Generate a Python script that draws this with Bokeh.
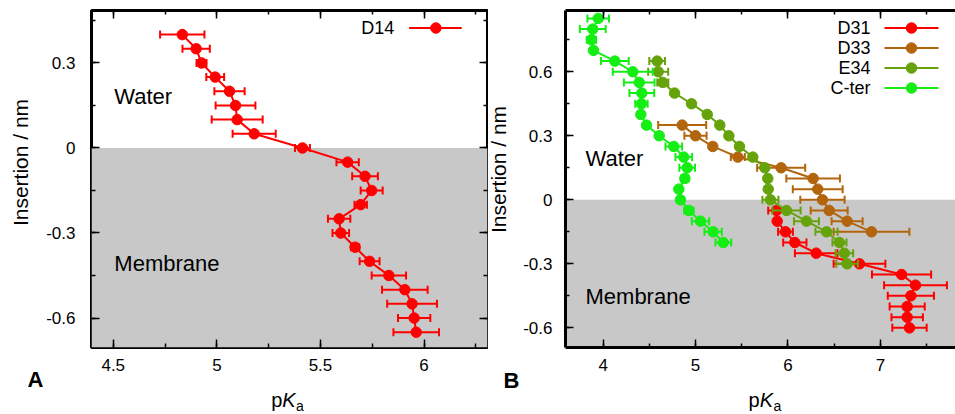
import numpy as np
from bokeh.plotting import figure
from bokeh.models import (FixedTicker, CustomJSTickFormatter, LinearAxis, BoxAnnotation,
                          Label, ColumnDataSource, Range1d)
from bokeh.layouts import row, column
from bokeh.core.properties import value
from bokeh.embed import file_html
from bokeh.resources import INLINE

# ---------------- data ----------------
# Panel A : D14
d14_ins = [0.40, 0.35, 0.30, 0.25, 0.20, 0.15, 0.10, 0.05, 0.00, -0.05, -0.10,
           -0.15, -0.20, -0.25, -0.30, -0.35, -0.40, -0.45, -0.50, -0.55, -0.60, -0.65]
d14_pka = [4.833, 4.900, 4.926, 4.992, 5.061, 5.090, 5.098, 5.180, 5.413, 5.631, 5.715,
           5.747, 5.694, 5.590, 5.598, 5.667, 5.737, 5.830, 5.907, 5.942, 5.952, 5.962]
d14_err = [0.107, 0.066, 0.024, 0.043, 0.073, 0.096, 0.123, 0.104, 0.036, 0.054, 0.062,
           0.053, 0.030, 0.054, 0.040, 0.020, 0.048, 0.083, 0.110, 0.120, 0.078, 0.110]

# Panel B
d31_ins = [-0.05, -0.10, -0.15, -0.20, -0.25, -0.30, -0.35, -0.40, -0.45, -0.50, -0.55, -0.60]
d31_pka = [5.876, 5.883, 5.973, 6.074, 6.305, 6.774, 7.229, 7.380, 7.330, 7.290, 7.290, 7.315]
d31_err = [0.090, 0.030, 0.080, 0.126, 0.230, 0.280, 0.320, 0.340, 0.250, 0.190, 0.170, 0.186]

d33_ins = [0.35, 0.30, 0.25, 0.20, 0.15, 0.10, 0.05, 0.00, -0.05, -0.10, -0.15]
d33_pka = [4.855, 4.999, 5.186, 5.457, 5.926, 6.272, 6.322, 6.373, 6.446, 6.640, 6.904]
d33_err = [0.260, 0.120, 0.030, 0.076, 0.260, 0.290, 0.270, 0.240, 0.200, 0.168, 0.410]

e34_ins = [0.65, 0.60, 0.55, 0.50, 0.45, 0.40, 0.35, 0.30, 0.25, 0.20, 0.15, 0.10, 0.05,
           0.00, -0.05, -0.10, -0.15, -0.20, -0.25, -0.30]
e34_pka = [4.584, 4.595, 4.645, 4.772, 4.956, 5.126, 5.262, 5.360, 5.475, 5.619, 5.749,
           5.781, 5.786, 5.810, 5.984, 6.200, 6.417, 6.557, 6.610, 6.640]
e34_err = [0.085, 0.108, 0.060, 0.030, 0.030, 0.030, 0.030, 0.030, 0.030, 0.030, 0.030,
           0.030, 0.030, 0.087, 0.153, 0.135, 0.120, 0.076, 0.095, 0.117]

cter_ins = [0.85, 0.80, 0.75, 0.70, 0.65, 0.60, 0.55, 0.50, 0.45, 0.40, 0.35, 0.30, 0.25,
            0.20, 0.15, 0.10, 0.05, 0.00, -0.05, -0.10, -0.15, -0.20]
cter_pka = [3.946, 3.887, 3.873, 3.895, 4.126, 4.320, 4.390, 4.418, 4.414, 4.407, 4.469,
            4.606, 4.764, 4.872, 4.909, 4.884, 4.818, 4.836, 4.927, 5.053, 5.190, 5.300]
cter_err = [0.117, 0.140, 0.050, 0.030, 0.150, 0.216, 0.166, 0.134, 0.067, 0.030, 0.030,
            0.030, 0.090, 0.090, 0.085, 0.040, 0.030, 0.030, 0.050, 0.094, 0.094, 0.085]

a_xticks = [4.5, 5, 5.5, 6]
a_xminor = [4.5, 4.75, 5, 5.25, 5.5, 5.75, 6, 6.25]
a_yticks = [-0.6, -0.3, 0, 0.3]
a_yminor = [-0.6, -0.45, -0.3, -0.15, 0, 0.15, 0.3, 0.45]
b_xticks = [4, 5, 6, 7]
b_xminor = [3.5, 4, 4.5, 5, 5.5, 6, 6.5, 7, 7.5]
b_yticks = [-0.6, -0.3, 0, 0.3, 0.6]
b_yminor = [-0.6, -0.45, -0.3, -0.15, 0, 0.15, 0.3, 0.45, 0.6, 0.75]

RED = "#ff0000"
BROWN = "#b3650d"
OLIVE = "#66a30a"
LIME = "#14ee14"
GRAY = "#c8c8c8"
FONT = "Liberation Sans"

H = 414          # page height
HP = 386         # height of the panel figures (bottom strip holds the x label)
FMT = CustomJSTickFormatter(code="return tick.toString();")
EMPTY = CustomJSTickFormatter(code="return '';")


def make_panel(x0, width, fl, fr, ft, fb, xr, yr, xt, xm, yt, ym, outline, ystand):
    p = figure(width=width, height=HP, x_range=Range1d(*xr), y_range=Range1d(*yr),
               output_backend="svg", toolbar_location=None, title=None,
               min_border_left=fl - x0, min_border_right=x0 + width - fr,
               min_border_top=ft, min_border_bottom=HP - fb)
    p.xgrid.visible = False
    p.ygrid.visible = False
    p.background_fill_color = "white"
    p.border_fill_color = "white"
    if outline:
        p.outline_line_color = "black"
        p.outline_line_width = 3
    else:
        p.outline_line_color = None
    for ax, tk, mn in ((p.xaxis[0], xt, xm), (p.yaxis[0], yt, ym)):
        ax.ticker = FixedTicker(ticks=tk, minor_ticks=mn)
        ax.formatter = FMT
        ax.major_tick_in = 8
        ax.major_tick_out = 0
        ax.minor_tick_in = 4
        ax.minor_tick_out = 0
        ax.major_tick_line_width = 1.5
        ax.minor_tick_line_width = 1.5
        ax.major_label_text_font = FONT
        ax.major_label_text_font_size = "17px"
        ax.major_label_text_color = "black"
        ax.axis_line_width = 3 if not outline else 1
        ax.axis_line_color = "black" if not outline else None
    p.xaxis[0].major_label_standoff = 11
    p.yaxis[0].major_label_standoff = ystand
    # mirrored axes (ticks only)
    sides = [("above", xt, xm)]
    if outline:
        sides.append(("right", yt, ym))
    for side, tk, mn in sides:
        ax = LinearAxis(ticker=FixedTicker(ticks=tk, minor_ticks=mn), formatter=EMPTY,
                        major_tick_in=8, major_tick_out=0, minor_tick_in=4, minor_tick_out=0,
                        major_tick_line_width=1.5, minor_tick_line_width=1.5,
                        major_label_text_font_size="0px", major_label_standoff=0,
                        axis_line_width=3 if not outline else 1,
                        axis_line_color="black" if not outline else None)
        p.add_layout(ax, side)
    p.add_layout(BoxAnnotation(top=0, fill_color=GRAY, fill_alpha=1.0, line_color=None,
                               level="underlay"))

    def px2x(px):
        return xr[0] + (px - fl) / (fr - fl) * (xr[1] - xr[0])

    def py2y(py):
        return yr[1] - (py - ft) / (fb - ft) * (yr[1] - yr[0])

    return p, px2x, py2y


def series(p, ins, pka, err, color):
    lo = [a - e for a, e in zip(pka, err)]
    hi = [a + e for a, e in zip(pka, err)]
    src = ColumnDataSource(dict(y=ins, x=pka, lo=lo, hi=hi))
    p.segment(x0="lo", y0="y", x1="hi", y1="y", source=src, line_color=color, line_width=2)
    p.scatter(x="lo", y="y", marker="dash", angle=np.pi / 2, size=8, line_color=color,
              line_width=2, source=src)
    p.scatter(x="hi", y="y", marker="dash", angle=np.pi / 2, size=8, line_color=color,
              line_width=2, source=src)
    p.line(x="x", y="y", source=src, line_color=color, line_width=2)
    p.scatter(x="x", y="y", size=10.5, fill_color=color, line_color=color, source=src)


def label(p, x, y, text, size, align="left", baseline="middle", style="normal"):
    p.add_layout(Label(x=x, y=y, text=text, text_font=FONT, text_font_size=size,
                       text_align=align, text_baseline=baseline, text_font_style=style,
                       text_color="black"))


def legend_entry(p, px2x, py2y, name, color, text_right, lx0, lx1, lxm, py):
    label(p, px2x(text_right), py2y(py), name, "18px", align="right")
    p.line(x=[px2x(lx0), px2x(lx1)], y=[py2y(py), py2y(py)], line_color=color, line_width=2)
    p.scatter(x=[px2x(lxm)], y=[py2y(py)], size=10.5, fill_color=color, line_color=color)


def strip(width, height, bl=0, br=0):
    """A plain figure; its frame is mapped to canvas pixel coordinates."""
    s = figure(width=width, height=height, x_range=Range1d(bl, width - br),
               y_range=Range1d(height, 0), x_axis_location=None, y_axis_location=None,
               min_border_left=bl, min_border_right=br, min_border_top=0, min_border_bottom=0,
               output_backend="svg", toolbar_location=None, title=None)
    s.outline_line_color = None
    s.grid.visible = False
    s.background_fill_color = "white"
    s.border_fill_color = "white"
    return s


def stext(s, x, y, text, size, align="left", baseline="middle", style="normal", angle=0.0):
    s.text(x=[x], y=[y], text=[text], text_font=value(FONT), text_font_size=size,
           text_align=align, text_baseline=baseline, text_font_style=style, angle=angle,
           text_color="black")


def pka_text(s, left):
    # vertical centres (in strip pixels) of "p", "K" and the subscript "a"
    stext(s, left, 13.2, "p", "20px")
    stext(s, left + 11.2, 13.2, "K", "20px", style="italic")
    stext(s, left + 25, 19.8, "a", "14px")


# ---------------- Panel A ----------------
SA = 43
pa, ax_x, ax_y = make_panel(SA, 488 - SA, 88, 487, 10, 347, (4.395, 6.306), (-0.704, 0.485),
                            a_xticks, a_xminor, a_yticks, a_yminor, True, 16)
series(pa, d14_ins, d14_pka, d14_err, RED)
legend_entry(pa, ax_x, ax_y, "D14", RED, 393, 408, 461, 435, 27.5)
label(pa, ax_x(111), ax_y(95.5), "Water", "22px")
label(pa, ax_x(111), ax_y(262.5), "Membrane", "22px")

strip_a = strip(SA, H)
stext(strip_a, 19.5, 162, "Insertion / nm", "21px", align="center", angle=np.pi / 2)
stext(strip_a, 35, 379, "A", "22px", align="center", style="bold")
bottom_a = strip(488 - SA, H - HP, bl=88 - SA, br=1)
pka_text(bottom_a, 269 - SA)

# ---------------- Panel B ----------------
SB0, SB1 = 488, 520
pb, bx_x, bx_y = make_panel(SB1, 955 - SB1, 565, 955, 10, 347, (3.592, 7.813), (-0.692, 0.887),
                            b_xticks, b_xminor, b_yticks, b_yminor, False, 13)
series(pb, d31_ins, d31_pka, d31_err, RED)
series(pb, d33_ins, d33_pka, d33_err, BROWN)
series(pb, e34_ins, e34_pka, e34_err, OLIVE)
series(pb, cter_ins, cter_pka, cter_err, LIME)
for name, col, py in (("D31", RED, 27.5), ("D33", BROWN, 47.5), ("E34", OLIVE, 67.5),
                      ("C-ter", LIME, 87.5)):
    legend_entry(pb, bx_x, bx_y, name, col, 870, 884, 938, 911, py)
label(pb, bx_x(585), bx_y(157.5), "Water", "22px")
label(pb, bx_x(585), bx_y(296), "Membrane", "22px")

strip_b = strip(SB1 - SB0, H)
stext(strip_b, 497.5 - SB0, 169, "Insertion / nm", "21px", align="center", angle=np.pi / 2)
stext(strip_b, 511 - SB0, 380, "B", "22px", align="center", style="bold")
bottom_b = strip(955 - SB1, H - HP, bl=565 - SB1, br=0)
pka_text(bottom_b, 748 - SB1)

layout = row(strip_a, column(pa, bottom_a), strip_b, column(pb, bottom_b))
open("out.html", "w").write(file_html(layout, INLINE))
